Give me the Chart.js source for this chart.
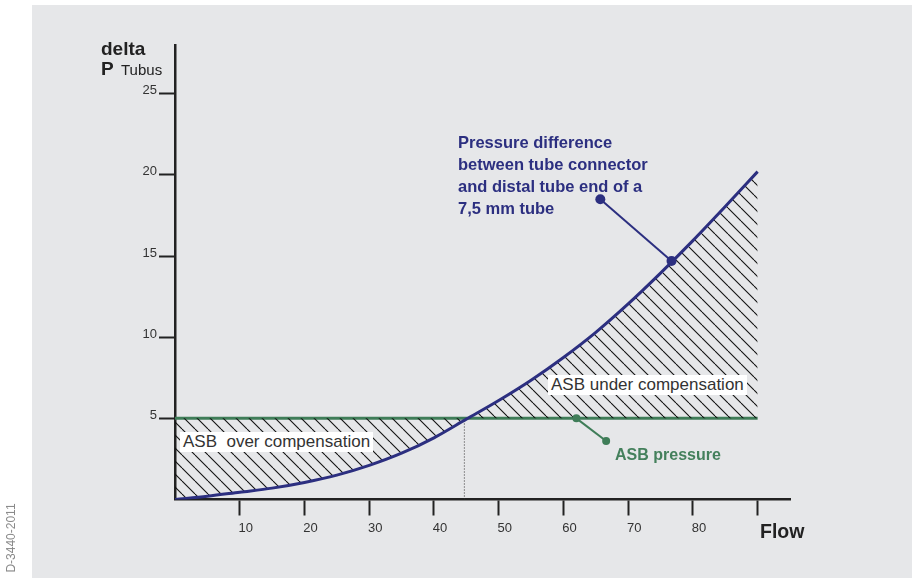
<!DOCTYPE html>
<html>
<head>
<meta charset="utf-8">
<script src="https://cdn.jsdelivr.net/npm/chart.js@4.4.1/dist/chart.umd.min.js"></script>
<style>
  html, body { margin: 0; padding: 0; background: #fff; }
  #wrap { position: relative; width: 912px; height: 578px; overflow: hidden; font-family: "Liberation Sans", Arial, sans-serif; }
  #wrap canvas { position: absolute; left: 0; top: 0; }
  .lbl { position: absolute; line-height: 1; white-space: pre; color: #222; }
  .bold { font-weight: bold; }
  .box { background: #fff; color: #333; font-size: 17px; line-height: 20px; height: 20px; padding: 0 3px; }
</style>
</head>
<body>
<div id="wrap">
  <canvas id="chart" width="912" height="578"></canvas>
  <div class="lbl bold" style="left:101px; top:39px; font-size:19px;">delta</div>
  <div class="lbl bold" style="left:101px; top:59px; font-size:19px;">P</div>
  <div class="lbl" style="left:121px; top:62px; font-size:15px;">Tubus</div>
  <div class="lbl bold" style="left:760px; top:522px; font-size:19.5px;">Flow</div>
  <div class="lbl bold" style="left:458px; top:131px; font-size:16.5px; line-height:22px; color:#2c2f80;">Pressure difference
between tube connector
and distal tube end of a
7,5 mm tube</div>
  <div class="lbl box" style="left:180px; top:432px;">ASB  over compensation</div>
  <div class="lbl box" style="left:548px; top:375px;">ASB under compensation</div>
  <div class="lbl bold" style="left:615px; top:447px; font-size:16px; color:#44805c;">ASB pressure</div>
  <div class="lbl" style="left:-25px; top:532px; font-size:12px; color:#8a8a8a; transform:rotate(-90deg); width:72px; text-align:center;">D-3440-2011</div>
</div>
<script>
// --- data ---
const flow = [0, 5, 10, 15, 20, 25, 30, 35, 40, 45, 50, 55, 60, 65, 70, 75, 80, 85, 90];
const deltaP = [0, 0.2, 0.45, 0.7, 1.05, 1.5, 2.1, 2.85, 3.8, 4.95, 6.1, 7.35, 8.75, 10.3, 12.05, 13.95, 15.95, 18.05, 20.2];
const asbFlow = [0, 90];
const asbPressure = [5, 5];
const crossFlow = [44.7, 44.7];
const crossP = [0, 5];
const tubeCalloutFlow = [65.7, 76.7];
const tubeCalloutP = [18.5, 14.7];
const asbCalloutFlow = [62, 66.6];
const asbCalloutP = [5, 3.6];
const flowTicks = [10, 20, 30, 40, 50, 60, 70, 80, 90];
const flowLabels = ['10', '20', '30', '40', '50', '60', '70', '80', ''];
const pressureTicks = [5, 10, 15, 20, 25];
const pressureLabels = ['5', '10', '15', '20', '25'];

const BLUE = '#2c2f80';
const GREEN = '#3f7d58';
const AXIS = '#222';

const toPts = (xs, ys) => xs.map((x, i) => ({ x: x, y: ys[i] }));

// hatch pattern for the area between the curves
function makeHatch() {
    const s = 13;
    const c = document.createElement('canvas');
    c.width = s; c.height = s;
    const g = c.getContext('2d');
    g.strokeStyle = '#111';
    g.lineWidth = 1.1;
    [-s, 0, s].forEach(k => {
        g.beginPath();
        g.moveTo(k, 0);
        g.lineTo(k + s, s);
        g.stroke();
    });
    return g.createPattern(c, 'repeat');
}
const hatch = makeHatch();

const panelBg = {
    id: 'panelBg',
    beforeDraw(chart) {
        const ctx = chart.ctx;
        ctx.save();
        ctx.fillStyle = '#fff';
        ctx.fillRect(0, 0, chart.width, chart.height);
        ctx.fillStyle = '#e6e7e9';
        ctx.fillRect(32, 5, chart.width - 32, chart.height - 5);
        ctx.restore();
    }
};

new Chart(document.getElementById('chart'), {
    type: 'scatter',
    data: {
        datasets: [
            {
                data: toPts(flow, deltaP),
                showLine: true,
                borderColor: BLUE,
                borderWidth: 3,
                pointRadius: 0,
                cubicInterpolationMode: 'monotone',
                fill: { target: 1, above: hatch, below: hatch },
                order: 2
            },
            {
                data: toPts(asbFlow, asbPressure),
                showLine: true,
                borderColor: GREEN,
                borderWidth: 3,
                pointRadius: 0,
                order: 3
            },
            {
                data: toPts(crossFlow, crossP),
                showLine: true,
                borderColor: '#333',
                borderWidth: 1,
                borderDash: [1, 2],
                pointRadius: 0,
                order: 4
            },
            {
                data: toPts(tubeCalloutFlow, tubeCalloutP),
                showLine: true,
                borderColor: BLUE,
                backgroundColor: BLUE,
                borderWidth: 2,
                pointRadius: 5,
                pointBorderWidth: 0,
                order: 0
            },
            {
                data: toPts(asbCalloutFlow, asbCalloutP),
                showLine: true,
                borderColor: GREEN,
                backgroundColor: GREEN,
                borderWidth: 2,
                pointRadius: 4,
                pointBorderWidth: 0,
                order: 1
            }
        ]
    },
    options: {
        responsive: false,
        animation: false,
        devicePixelRatio: 1,
        layout: { padding: { left: 0, top: 45, right: 122, bottom: 0 } },
        plugins: { legend: { display: false }, tooltip: { enabled: false } },
        scales: {
            x: {
                type: 'linear',
                min: 0,
                max: 95,
                afterFit: (s) => { s.height = 78.5; },
                afterBuildTicks: (s) => { s.ticks = flowTicks.map(v => ({ value: v })); },
                grid: { drawOnChartArea: false, drawTicks: true, tickLength: 16, tickColor: AXIS, tickWidth: 2 },
                border: { display: true, color: AXIS, width: 2.5 },
                ticks: {
                    callback: (v, i) => flowLabels[i],
                    color: '#333',
                    font: { family: '"Liberation Sans", Arial', size: 13 },
                    padding: 5,
                    labelOffset: 6,
                    maxRotation: 0,
                    autoSkip: false
                }
            },
            y: {
                type: 'linear',
                min: 0,
                max: 28,
                afterFit: (s) => { s.width = 175; },
                afterBuildTicks: (s) => { s.ticks = pressureTicks.map(v => ({ value: v })); },
                grid: { drawOnChartArea: false, drawTicks: true, tickLength: 16, tickColor: AXIS, tickWidth: 2 },
                border: { display: true, color: AXIS, width: 2.5 },
                ticks: {
                    callback: (v, i) => pressureLabels[i],
                    color: '#333',
                    font: { family: '"Liberation Sans", Arial', size: 13 },
                    padding: 2,
                    labelOffset: -3,
                    autoSkip: false
                }
            }
        }
    },
    plugins: [panelBg]
});
</script>
</body>
</html>
